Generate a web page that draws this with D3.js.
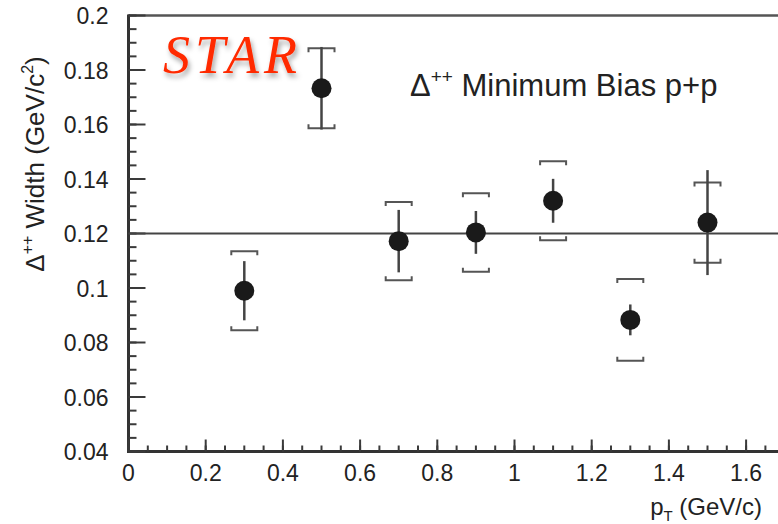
<!DOCTYPE html>
<html>
<head>
<meta charset="utf-8">
<script src="https://cdn.jsdelivr.net/npm/d3@7"></script>
<style>
    body { margin: 0; background: #fff; }
    svg { display: block; }
    .tick-label { font-family: "Liberation Sans", Arial, sans-serif; font-size: 23px; fill: #222; }
    .axis-title { font-family: "Liberation Sans", Arial, sans-serif; fill: #222; }
</style>
</head>
<body>
<div id="chart-div"></div>
<script>
// Delta++ width vs pT, minimum bias p+p
const ptValues = [0.3, 0.5, 0.7, 0.9, 1.1, 1.3, 1.5];
const widthValues = [0.099, 0.1733, 0.1172, 0.1204, 0.132, 0.0883, 0.124];
const statErrors = [0.0104, 0.0147, 0.011, 0.0074, 0.0076, 0.0052, 0.0188];
const sysErrors = [0.0145, 0.0147, 0.0144, 0.0144, 0.0145, 0.015, 0.0147];
const referenceWidth = 0.12;

const yTickValues = [0.04, 0.06, 0.08, 0.1, 0.12, 0.14, 0.16, 0.18, 0.2];
const yTickLabels = ["0.04", "0.06", "0.08", "0.1", "0.12", "0.14", "0.16", "0.18", "0.2"];
const xTickValues = [0, 0.2, 0.4, 0.6, 0.8, 1, 1.2, 1.4, 1.6];
const xTickLabels = ["0", "0.2", "0.4", "0.6", "0.8", "1", "1.2", "1.4", "1.6"];

const WIDTH = 778;
const HEIGHT = 524;
const LEFT = 128.5;
const TOP = 15.5;
const BOTTOM = 451.5;
const X_MAX = 1.8;
const PX_PER_GEV = 386;
const TICK_COLOR = "#3a3a3a";

let svg = d3.select("#chart-div")
    .append("svg")
    .attr("width", WIDTH)
    .attr("height", HEIGHT);

let xScale = d3.scaleLinear()
    .domain([0, X_MAX])
    .range([LEFT, LEFT + X_MAX * PX_PER_GEV]);

let yScale = d3.scaleLinear()
    .domain([0.04, 0.2])
    .range([BOTTOM, TOP]);

// shadow for the STAR logo
let defs = svg.append("defs");
defs.append("filter")
    .attr("id", "star-shadow")
    .attr("x", "-20%").attr("y", "-30%")
    .attr("width", "140%").attr("height", "170%")
    .append("feDropShadow")
    .attr("dx", 2)
    .attr("dy", 4)
    .attr("stdDeviation", 2.5)
    .attr("flood-color", "#000")
    .attr("flood-opacity", 0.35);

// top frame line
svg.append("line")
    .attr("x1", LEFT).attr("x2", WIDTH)
    .attr("y1", TOP).attr("y2", TOP)
    .attr("stroke", "#555")
    .attr("stroke-width", 2.5);

// tick labels
svg.append("g")
    .selectAll("text")
    .data(yTickValues)
    .enter()
    .append("text")
    .classed("tick-label", true)
    .attr("x", LEFT - 20)
    .attr("y", d => yScale(d))
    .attr("dy", "0.38em")
    .attr("text-anchor", "end")
    .text((d, i) => yTickLabels[i]);

svg.append("g")
    .selectAll("text")
    .data(xTickValues)
    .enter()
    .append("text")
    .classed("tick-label", true)
    .attr("x", d => xScale(d))
    .attr("y", BOTTOM + 29)
    .attr("text-anchor", "middle")
    .text((d, i) => xTickLabels[i]);

// axis lines
svg.append("line")
    .attr("x1", LEFT).attr("x2", LEFT)
    .attr("y1", TOP - 1).attr("y2", BOTTOM + 1.5)
    .attr("stroke", "#333")
    .attr("stroke-width", 3);
svg.append("line")
    .attr("x1", LEFT - 1.5).attr("x2", WIDTH)
    .attr("y1", BOTTOM).attr("y2", BOTTOM)
    .attr("stroke", "#333")
    .attr("stroke-width", 3);

// tick marks, pointing into the plot
svg.append("g")
    .selectAll("line")
    .data(yScale.ticks(32))
    .enter()
    .append("line")
    .attr("x1", LEFT).attr("x2", LEFT + 8)
    .attr("y1", d => yScale(d)).attr("y2", d => yScale(d))
    .attr("stroke", TICK_COLOR).attr("stroke-width", 2);

svg.append("g")
    .selectAll("line")
    .data(yTickValues)
    .enter()
    .append("line")
    .attr("x1", LEFT).attr("x2", LEFT + 17)
    .attr("y1", d => yScale(d)).attr("y2", d => yScale(d))
    .attr("stroke", TICK_COLOR).attr("stroke-width", 2);

svg.append("g")
    .selectAll("line")
    .data(xScale.ticks(36))
    .enter()
    .append("line")
    .attr("x1", d => xScale(d)).attr("x2", d => xScale(d))
    .attr("y1", BOTTOM).attr("y2", BOTTOM - 6)
    .attr("stroke", TICK_COLOR).attr("stroke-width", 2);

svg.append("g")
    .selectAll("line")
    .data(xTickValues)
    .enter()
    .append("line")
    .attr("x1", d => xScale(d)).attr("x2", d => xScale(d))
    .attr("y1", BOTTOM).attr("y2", BOTTOM - 12)
    .attr("stroke", TICK_COLOR).attr("stroke-width", 2);

// reference line
svg.append("line")
    .attr("x1", LEFT).attr("x2", WIDTH)
    .attr("y1", yScale(referenceWidth)).attr("y2", yScale(referenceWidth))
    .attr("stroke", "#444")
    .attr("stroke-width", 2);

let points = ptValues.map((pt, i) => {
    return { pt: pt, value: widthValues[i], stat: statErrors[i], sys: sysErrors[i] };
});

// systematic brackets
const BRACKET_HALF = 13;
const HOOK = 4;
let brackets = svg.append("g")
    .attr("fill", "none")
    .attr("stroke", "#555")
    .attr("stroke-width", 2);

brackets.selectAll(".sys-top")
    .data(points)
    .enter()
    .append("path")
    .classed("sys-top", true)
    .attr("d", (d) => {
        let x = xScale(d.pt);
        let y = yScale(d.value + d.sys);
        return "M" + (x - BRACKET_HALF) + "," + (y + HOOK) + "V" + y + "H" + (x + BRACKET_HALF) + "V" + (y + HOOK);
    });

brackets.selectAll(".sys-bottom")
    .data(points)
    .enter()
    .append("path")
    .classed("sys-bottom", true)
    .attr("d", (d) => {
        let x = xScale(d.pt);
        let y = yScale(d.value - d.sys);
        return "M" + (x - BRACKET_HALF) + "," + (y - HOOK) + "V" + y + "H" + (x + BRACKET_HALF) + "V" + (y - HOOK);
    });

// statistical error bars
svg.append("g")
    .selectAll("line")
    .data(points)
    .enter()
    .append("line")
    .attr("x1", d => xScale(d.pt))
    .attr("x2", d => xScale(d.pt))
    .attr("y1", d => yScale(d.value + d.stat))
    .attr("y2", d => yScale(d.value - d.stat))
    .attr("stroke", "#444")
    .attr("stroke-width", 2.5)
    .attr("stroke-linecap", "square");

// markers
svg.append("g")
    .selectAll("circle")
    .data(points)
    .enter()
    .append("circle")
    .attr("cx", d => xScale(d.pt))
    .attr("cy", d => yScale(d.value))
    .attr("r", 10)
    .attr("fill", "#1a1a1a");

// axis titles
let yTitle = svg.append("text")
    .classed("axis-title", true)
    .attr("transform", "translate(44,164)rotate(-90)")
    .attr("text-anchor", "middle")
    .style("font-size", "26px");
yTitle.append("tspan").text("\u0394");
yTitle.append("tspan").attr("dy", -11).style("font-size", "16px").text("++");
yTitle.append("tspan").attr("dy", 11).text(" Width (GeV/c");
yTitle.append("tspan").attr("dy", -11).style("font-size", "16px").text("2");
yTitle.append("tspan").attr("dy", 11).text(")");

let xTitle = svg.append("text")
    .classed("axis-title", true)
    .attr("x", 762)
    .attr("y", 515)
    .attr("text-anchor", "end")
    .style("font-size", "24px");
xTitle.append("tspan").text("p");
xTitle.append("tspan").attr("dy", 6).style("font-size", "15px").text("T");
xTitle.append("tspan").attr("dy", -6).text(" (GeV/c)");

// legend text
let legend = svg.append("text")
    .classed("axis-title", true)
    .attr("x", 410)
    .attr("y", 96)
    .style("font-size", "31px");
legend.append("tspan").text("\u0394");
legend.append("tspan").attr("dy", -13).style("font-size", "19px").text("++");
legend.append("tspan").attr("dy", 13).text(" Minimum Bias p+p");

// STAR logo
svg.append("text")
    .attr("x", 163)
    .attr("y", 73)
    .attr("filter", "url(#star-shadow)")
    .attr("textLength", 134)
    .attr("lengthAdjust", "spacing")
    .style("font-family", "'Liberation Serif', 'Times New Roman', serif")
    .style("font-style", "italic")
    .style("font-size", "54px")
    .style("fill", "#ff2a00")
    .text("STAR");
</script>
</body>
</html>
